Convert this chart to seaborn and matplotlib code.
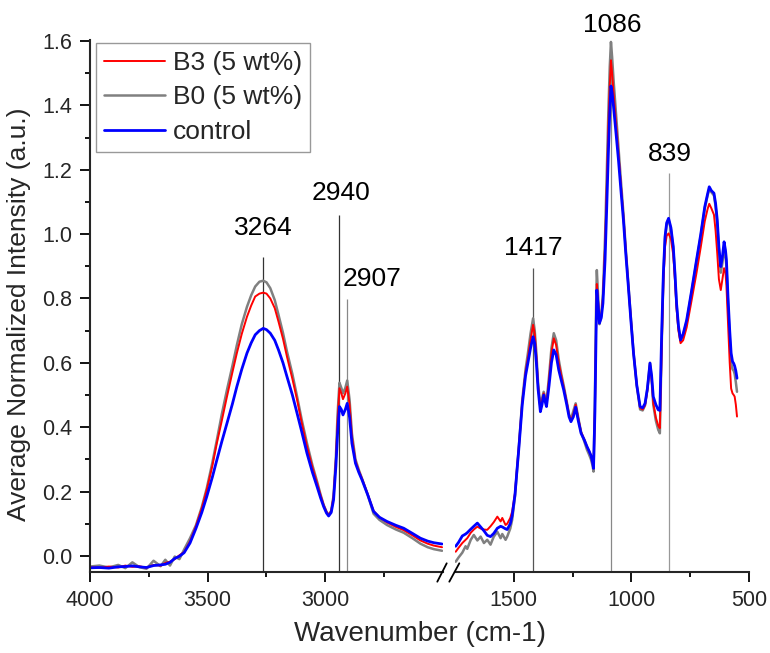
import numpy as np
import pandas as pd
import matplotlib
matplotlib.use("Agg")
import matplotlib.pyplot as plt
from matplotlib.lines import Line2D
from matplotlib.ticker import MultipleLocator, FixedLocator, FormatStrFormatter
import seaborn as sns

# ---------------- data ----------------
wn_left = [4000, 3960, 3920, 3880, 3850, 3820, 3790, 3760, 3730, 3700, 3680, 3660, 3640, 3620,
           3600, 3575, 3550, 3525, 3504, 3480, 3461, 3440, 3418, 3395, 3376, 3355, 3333, 3315,
           3298, 3280, 3264, 3250, 3234, 3215, 3199, 3180, 3163, 3140, 3120, 3100, 3078, 3055,
           3035, 3020, 3007, 2995, 2986, 2975, 2965, 2955, 2948, 2940, 2932, 2925, 2915, 2907,
           2897, 2887, 2872, 2858, 2844, 2820, 2795, 2770, 2738, 2700, 2667, 2630, 2596, 2565,
           2539, 2504]

control_left = [-0.037, -0.036, -0.038, -0.034, -0.033, -0.031, -0.034, -0.036, -0.030, -0.028,
                -0.026, -0.020, -0.008, -0.001, 0.010, 0.040, 0.085, 0.135, 0.184, 0.245, 0.298,
                0.355, 0.412, 0.472, 0.526, 0.580, 0.630, 0.662, 0.687, 0.700, 0.707, 0.703, 0.692,
                0.670, 0.640, 0.600, 0.557, 0.500, 0.443, 0.385, 0.319, 0.260, 0.215, 0.180, 0.153,
                0.133, 0.124, 0.135, 0.174, 0.280, 0.380, 0.464, 0.455, 0.438, 0.455, 0.474, 0.430,
                0.350, 0.288, 0.260, 0.236, 0.190, 0.138, 0.120, 0.107, 0.095, 0.086, 0.070, 0.055,
                0.046, 0.041, 0.037]

b3_left = [-0.035, -0.037, -0.033, -0.036, -0.030, -0.034, -0.032, -0.037, -0.028, -0.030,
           -0.022, -0.018, -0.010, 0.002, 0.012, 0.045, 0.092, 0.148, 0.205, 0.280, 0.350, 0.420,
           0.495, 0.570, 0.630, 0.690, 0.743, 0.778, 0.806, 0.815, 0.818, 0.815, 0.800, 0.770,
           0.728, 0.675, 0.619, 0.550, 0.485, 0.412, 0.340, 0.275, 0.226, 0.188, 0.158, 0.137,
           0.127, 0.140, 0.185, 0.300, 0.420, 0.521, 0.505, 0.487, 0.505, 0.526, 0.470, 0.370,
           0.295, 0.265, 0.240, 0.192, 0.140, 0.120, 0.104, 0.090, 0.080, 0.064, 0.048, 0.038,
           0.032, 0.027]

b0_left = [-0.033, -0.030, -0.036, -0.028, -0.038, -0.020, -0.035, -0.040, -0.015, -0.032,
           -0.012, -0.030, -0.002, -0.010, 0.020, 0.055, 0.095, 0.152, 0.210, 0.290, 0.360, 0.440,
           0.516, 0.590, 0.655, 0.720, 0.774, 0.810, 0.837, 0.852, 0.855, 0.850, 0.832, 0.795,
           0.749, 0.693, 0.635, 0.565, 0.495, 0.422, 0.350, 0.282, 0.231, 0.190, 0.158, 0.137,
           0.127, 0.140, 0.188, 0.310, 0.440, 0.538, 0.522, 0.505, 0.522, 0.545, 0.485, 0.380,
           0.300, 0.268, 0.240, 0.190, 0.131, 0.112, 0.096, 0.082, 0.072, 0.055, 0.038, 0.027,
           0.021, 0.016]

wn_right = [1747, 1735, 1719, 1705, 1698, 1683, 1670, 1655, 1641, 1627, 1613, 1599, 1585, 1570,
            1556, 1549, 1535, 1528, 1515, 1507, 1495, 1486, 1479, 1464, 1450, 1440, 1429, 1418,
            1411, 1404, 1397, 1387, 1380, 1373, 1365, 1361, 1350, 1340, 1330, 1320, 1309, 1298,
            1288, 1275, 1265, 1257, 1247, 1237, 1226, 1214, 1200, 1189, 1180, 1172, 1165, 1161,
            1155, 1150, 1147, 1141, 1136, 1128, 1121, 1112, 1105, 1098, 1092, 1087, 1082, 1076,
            1065, 1055, 1045, 1034, 1024, 1013, 1002, 991, 977, 963, 952, 942, 932, 921, 914,
            907, 896, 886, 879, 871, 864, 857, 850, 842, 832, 822, 815, 808, 800, 791, 780, 765,
            745, 723, 705, 688, 676, 669, 660, 649, 642, 635, 628, 620, 613, 606, 600, 596, 589,
            582, 576, 570, 565, 561, 556, 551]

control_right = [0.030, 0.042, 0.062, 0.068, 0.072, 0.083, 0.092, 0.102, 0.090, 0.078, 0.064,
                 0.060, 0.070, 0.086, 0.092, 0.090, 0.084, 0.082, 0.100, 0.125, 0.190, 0.270,
                 0.330, 0.470, 0.560, 0.600, 0.645, 0.681, 0.660, 0.600, 0.520, 0.448, 0.470,
                 0.500, 0.475, 0.464, 0.530, 0.600, 0.640, 0.625, 0.578, 0.545, 0.516, 0.470,
                 0.432, 0.417, 0.432, 0.462, 0.420, 0.381, 0.360, 0.340, 0.326, 0.312, 0.290,
                 0.272, 0.450, 0.700, 0.826, 0.775, 0.723, 0.740, 0.785, 0.920, 1.080, 1.251,
                 1.380, 1.460, 1.440, 1.396, 1.310, 1.230, 1.140, 1.044, 0.940, 0.837, 0.730,
                 0.630, 0.530, 0.464, 0.460, 0.474, 0.520, 0.599, 0.560, 0.495, 0.470, 0.454,
                 0.452, 0.700, 0.880, 0.992, 1.035, 1.049, 1.020, 0.961, 0.880, 0.785, 0.715,
                 0.671, 0.690, 0.733, 0.820, 0.920, 1.000, 1.085, 1.125, 1.147, 1.135, 1.127,
                 1.095, 1.044, 0.960, 0.899, 0.930, 0.976, 0.950, 0.920, 0.800, 0.700, 0.630,
                 0.604, 0.598, 0.590, 0.575, 0.552]

b3_right = [0.013, 0.025, 0.040, 0.050, 0.055, 0.072, 0.082, 0.091, 0.085, 0.082, 0.081, 0.092,
            0.105, 0.122, 0.107, 0.118, 0.096, 0.100, 0.118, 0.138, 0.195, 0.275, 0.335, 0.478,
            0.570, 0.615, 0.670, 0.718, 0.690, 0.620, 0.530, 0.455, 0.480, 0.505, 0.482, 0.470,
            0.550, 0.630, 0.676, 0.655, 0.600, 0.560, 0.525, 0.478, 0.438, 0.420, 0.440, 0.470,
            0.428, 0.385, 0.362, 0.340, 0.326, 0.312, 0.292, 0.272, 0.460, 0.720, 0.845, 0.785,
            0.725, 0.745, 0.800, 0.960, 1.140, 1.330, 1.460, 1.540, 1.500, 1.440, 1.340, 1.250,
            1.155, 1.055, 0.950, 0.840, 0.735, 0.632, 0.530, 0.460, 0.455, 0.468, 0.515, 0.595,
            0.550, 0.475, 0.430, 0.405, 0.397, 0.650, 0.850, 0.960, 0.995, 1.002, 0.985, 0.935,
            0.860, 0.770, 0.700, 0.661, 0.670, 0.710, 0.790, 0.880, 0.960, 1.040, 1.078, 1.094,
            1.080, 1.060, 1.010, 0.940, 0.860, 0.826, 0.860, 0.894, 0.880, 0.840, 0.720, 0.600,
            0.520, 0.505, 0.500, 0.495, 0.470, 0.433]

b0_right = [-0.018, -0.005, 0.010, 0.030, 0.022, 0.050, 0.065, 0.048, 0.060, 0.040, 0.050,
            0.035, 0.060, 0.075, 0.055, 0.068, 0.050, 0.060, 0.085, 0.112, 0.185, 0.270, 0.335,
            0.485, 0.580, 0.630, 0.690, 0.738, 0.700, 0.630, 0.540, 0.465, 0.490, 0.510, 0.490,
            0.478, 0.560, 0.645, 0.692, 0.670, 0.610, 0.565, 0.530, 0.480, 0.440, 0.425, 0.450,
            0.474, 0.430, 0.385, 0.355, 0.330, 0.315, 0.300, 0.280, 0.262, 0.500, 0.780, 0.888,
            0.800, 0.720, 0.750, 0.815, 0.990, 1.180, 1.380, 1.520, 1.597, 1.550, 1.480, 1.370,
            1.270, 1.170, 1.065, 0.955, 0.845, 0.738, 0.632, 0.528, 0.455, 0.452, 0.468, 0.518,
            0.600, 0.550, 0.470, 0.420, 0.392, 0.381, 0.660, 0.870, 0.985, 1.030, 1.045, 1.015,
            0.955, 0.875, 0.780, 0.710, 0.668, 0.685, 0.728, 0.815, 0.915, 0.995, 1.080, 1.120,
            1.140, 1.130, 1.120, 1.085, 1.030, 0.950, 0.880, 0.910, 0.955, 0.930, 0.900, 0.780,
            0.680, 0.600, 0.580, 0.575, 0.565, 0.540, 0.510]

series_names = ["B3 (5 wt%)", "B0 (5 wt%)", "control"]
series_colors = {"B3 (5 wt%)": "#ff0000", "B0 (5 wt%)": "#808080", "control": "#0000ff"}
series_widths = {"B3 (5 wt%)": 1.4, "B0 (5 wt%)": 1.8, "control": 2.0}
draw_order = ["B0 (5 wt%)", "B3 (5 wt%)", "control"]

peak_labels = ["3264", "2940", "2907", "1417", "1086", "839"]
peak_pos = [3264, 2940, 2907, 1417, 1086, 839]
peak_line_top = [0.93, 1.059, 0.798, 0.896, 1.597, 1.19]
peak_text_x = [3264, 2932, 2800, 1417, 1083, 837]
peak_text_y = [1.019, 1.129, 0.860, 0.958, 1.650, 1.249]
peak_line_color = ["#333333", "#333333", "#888888", "#555555", "#888888", "#999999"]

# ---------------- build long tables ----------------
def long_table(wn, b3, b0, ctrl):
    frames = []
    for name, vals in zip(series_names, [b3, b0, ctrl]):
        frames.append(pd.DataFrame({"wn": wn, "val": vals, "sample": name}))
    return pd.concat(frames, ignore_index=True)

df_left = long_table(wn_left, b3_left, b0_left, control_left)
df_right = long_table(wn_right, b3_right, b0_right, control_right)

# ---------------- style ----------------
sns.set_style("ticks")
plt.rcParams["font.family"] = ["Liberation Sans", "DejaVu Sans"]
plt.rcParams["axes.linewidth"] = 1.5

W, H = 770, 653
fig = plt.figure(figsize=(W / 100, H / 100), dpi=100)
ax1 = fig.add_axes([90 / W, 81 / H, 353 / W, 532 / H])
ax2 = fig.add_axes([455 / W, 81 / H, 294 / W, 532 / H], sharey=ax1)

handles = {}
for ax, df in [(ax1, df_left), (ax2, df_right)]:
    for name in draw_order:
        sub = df[df["sample"] == name]
        sns.lineplot(data=sub, x="wn", y="val", ax=ax, color=series_colors[name],
                     lw=series_widths[name], sort=False, estimator=None, legend=False)
        handles[name] = Line2D([], [], color=series_colors[name], lw=series_widths[name])

ax1.set_xlim(4000, 2500)
ax2.set_xlim(1750, 500)
ax1.set_ylim(-0.05, 1.603)

# peak marker lines and labels
for lab, pos, top, tx, ty, c in zip(peak_labels, peak_pos, peak_line_top, peak_text_x,
                                    peak_text_y, peak_line_color):
    ax = ax1 if pos > 2000 else ax2
    ax.vlines(pos, -0.05, top, color=c, lw=0.9, zorder=1)
    ax.text(tx, ty, lab, ha="center", va="center", fontsize=19, color="black", clip_on=False)

# spines & ticks
for ax in (ax1, ax2):
    ax.spines["top"].set_visible(False)
    ax.spines["right"].set_visible(False)
    ax.set_xlabel("")
    ax.set_ylabel("")
    ax.tick_params(axis="both", which="major", direction="out", length=7, width=1.3,
                   labelsize=15.5, pad=6, color="black")
    ax.tick_params(axis="both", which="minor", direction="out", length=3.5, width=1.3,
                   color="black")

ax1.xaxis.set_major_locator(FixedLocator([4000, 3500, 3000]))
ax1.xaxis.set_minor_locator(FixedLocator([3750, 3250, 2750]))
ax2.xaxis.set_major_locator(FixedLocator([1500, 1000, 500]))
ax2.xaxis.set_minor_locator(FixedLocator([1250, 750]))
ax1.yaxis.set_major_locator(MultipleLocator(0.2))
ax1.yaxis.set_minor_locator(MultipleLocator(0.1))
ax1.yaxis.set_major_formatter(FormatStrFormatter("%.1f"))

ax2.spines["left"].set_visible(False)
ax2.tick_params(axis="y", which="both", left=False, labelleft=False)

# axis break marks
for x0, x1 in [(437.3, 446.7), (449.3, 459.3)]:
    fig.add_artist(Line2D([x0 / W, x1 / W], [1 - 581.7 / H, 1 - 563.3 / H],
                          transform=fig.transFigure, color="black", lw=1.3))

# axis labels
fig.text(420 / W, 1 - 634 / H, "Wavenumber (cm-1)", ha="center", va="center", fontsize=20)
fig.text(19 / W, 1 - 314 / H, "Average Normalized Intensity (a.u.)", ha="center",
         va="center", rotation=90, fontsize=19)

# legend
leg = ax1.legend([handles[n] for n in series_names], series_names,
                 loc="upper left", bbox_to_anchor=(6 / 353, 1 - 3 / 532),
                 borderaxespad=0, fontsize=19, frameon=True, fancybox=False,
                 edgecolor="#999999", framealpha=1, handlelength=2.3, handletextpad=0.3,
                 labelspacing=0.4, borderpad=0.3)
leg.get_frame().set_linewidth(1.0)

fig.savefig("out.png", dpi=100)
